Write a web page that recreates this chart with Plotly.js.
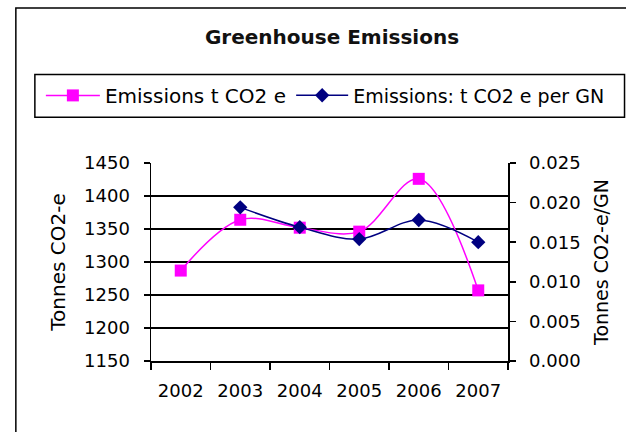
<!DOCTYPE html>
<html>
<head>
<meta charset="utf-8">
<script src="https://cdn.plot.ly/plotly-3.0.1.min.js"></script>
<style>html,body{margin:0;padding:0;background:#fff;}#chart{width:626px;height:432px;}</style>
</head>
<body>
<div id="chart"></div>
<script>
const years = ["2002", "2003", "2004", "2005", "2006", "2007"];
const emissions = [1287, 1364, 1352, 1346, 1426, 1257];
const perGNYears = ["2003", "2004", "2005", "2006", "2007"];
const emissionsPerGN = [0.0194, 0.0169, 0.0154, 0.0178, 0.0150];
const leftTicks = [1150, 1200, 1250, 1300, 1350, 1400, 1450];
const rightTicks = [0, 0.005, 0.010, 0.015, 0.020, 0.025];

const FONT = "DejaVu Sans, Liberation Sans, Arial, sans-serif";
// plot area in px: x 151..507.6, y 162.7..361
const PX = v => (v - 151) / 356.6;
const PY = v => (361 - v) / 198.3;

const traces = [
  {
    x: years, y: emissions, type: "scatter", mode: "lines+markers",
    name: "Emissions t CO2 e",
    line: {color: "#ff00ff", width: 1.5, shape: "spline", smoothing: 1},
    marker: {symbol: "square", size: 12, color: "#ff00ff"},
    yaxis: "y", legend: "legend"
  },
  {
    x: perGNYears, y: emissionsPerGN, type: "scatter", mode: "lines+markers",
    name: "Emissions: t CO2 e per GN",
    line: {color: "#000080", width: 1.5, shape: "spline", smoothing: 1},
    marker: {symbol: "diamond", size: 11, color: "#000080"},
    yaxis: "y2", legend: "legend2"
  }
];

const legendCommon = {
  orientation: "h",
  xref: "paper", yref: "paper",
  xanchor: "left", yanchor: "middle",
  borderwidth: 0,
  bgcolor: "rgba(0,0,0,0)"
};

const layout = {
  width: 626, height: 432,
  margin: {l: 151, r: 118.4, t: 162.7, b: 71, pad: 0},
  paper_bgcolor: "#fff", plot_bgcolor: "#fff",
  font: {family: FONT, size: 18, color: "#000"},
  showlegend: true,
  title: {
    text: "Greenhouse Emissions",
    font: {family: FONT, size: 20, color: "#111", weight: "bold"},
    xref: "paper", x: 0.507, xanchor: "center",
    yref: "container", y: 1 - 37/432, yanchor: "middle"
  },
  legend: Object.assign({}, legendCommon, {
    x: PX(41), y: PY(95), itemwidth: 54,
    font: {family: FONT, size: 20, color: "#000"}
  }),
  legend2: Object.assign({}, legendCommon, {
    x: PX(291), y: PY(95), itemwidth: 52,
    font: {family: FONT, size: 19, color: "#000"}
  }),
  xaxis: {
    type: "category",
    categoryorder: "array", categoryarray: years,
    range: [-0.5, 5.5],
    showline: true, linecolor: "#000", linewidth: 1.5,
    ticks: "outside", ticklen: 7, tickwidth: 1.5, tickcolor: "#000",
    tickson: "boundaries",
    ticklabelstandoff: 13,
    showgrid: false, zeroline: false,
    tickfont: {family: FONT, size: 18, color: "#000"}
  },
  yaxis: {
    range: [1150, 1450],
    tickvals: leftTicks,
    showline: true, linecolor: "#000", linewidth: 1.5,
    ticks: "outside", ticklen: 6, tickwidth: 1.5, tickcolor: "#000",
    ticklabelstandoff: 10,
    showgrid: true, gridcolor: "#000", gridwidth: 1.5,
    zeroline: false,
    tickfont: {family: FONT, size: 18, color: "#000"},
    title: {text: "Tonnes CO2-e", font: {family: FONT, size: 20, color: "#000"}, standoff: 13}
  },
  yaxis2: {
    range: [0, 0.025],
    overlaying: "y", side: "right",
    tickvals: rightTicks, tickformat: ".3f",
    showline: true, linecolor: "#000", linewidth: 1.5,
    ticks: "outside", ticklen: 6, tickwidth: 1.5, tickcolor: "#000",
    ticklabelstandoff: 10,
    showgrid: false, zeroline: false,
    tickfont: {family: FONT, size: 18, color: "#000"},
    title: {text: "Tonnes CO2-e/GN", font: {family: FONT, size: 19, color: "#000"}, standoff: 15}
  },
  shapes: [
    // outer chart frame
    {type: "rect", xref: "paper", yref: "paper",
     x0: PX(16), x1: PX(640), y0: PY(445), y1: PY(7.5),
     line: {color: "#000", width: 1.5}, fillcolor: "rgba(0,0,0,0)", layer: "below"},
    // legend frame
    {type: "rect", xref: "paper", yref: "paper",
     x0: PX(35), x1: PX(624), y0: PY(117), y1: PY(74),
     line: {color: "#000", width: 1.5}, fillcolor: "rgba(0,0,0,0)", layer: "below"}
  ]
};

Plotly.newPlot("chart", traces, layout, {displayModeBar: false, staticPlot: true});
</script>
</body>
</html>
